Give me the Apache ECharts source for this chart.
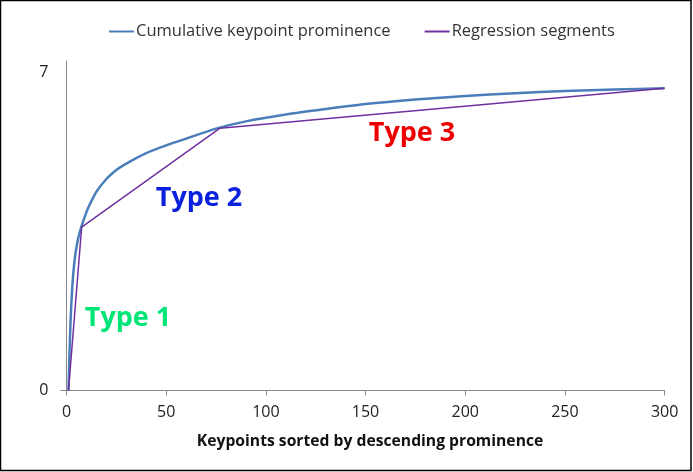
<!DOCTYPE html>
<html>
<head>
<meta charset="utf-8">
<script src="https://cdn.jsdelivr.net/npm/echarts@6/dist/echarts.min.js"></script>
<style>
  html, body { margin: 0; padding: 0; background: #fff; }
  #chart { width: 693px; height: 472px; }
</style>
</head>
<body>
<div id="chart"></div>
<script>
// Cumulative prominence of keypoints, sorted by descending prominence
const curveX = [1, 2, 3, 4, 5, 6, 8, 10, 12, 15, 20, 25, 30, 40, 50, 60, 75, 90, 110, 130, 150, 175, 200, 225, 250, 275, 300];
const curveY = [0, 1.5, 2.35, 2.85, 3.15, 3.38, 3.68, 3.93, 4.13, 4.38, 4.66, 4.86, 5.0, 5.23, 5.4, 5.55, 5.77, 5.93, 6.08, 6.2, 6.31, 6.41, 6.49, 6.55, 6.6, 6.63, 6.66];

// Piecewise linear fit (three segments)
const segX = [1, 7.6, 77, 300];
const segY = [0, 3.6, 5.78, 6.66];

const xTicks = [0, 50, 100, 150, 200, 250, 300];
const yLabels = [0, 7];

const typeLabels = [
  { text: 'Type 1', color: '#00E676', x: 128, y: 318 },
  { text: 'Type 2', color: '#0A22DD', x: 199, y: 198 },
  { text: 'Type 3', color: '#EE0000', x: 412, y: 133 }
];

const FONT = '"Open Sans", sans-serif';
const chart = echarts.init(document.getElementById('chart'));

chart.setOption({
  animation: false,
  backgroundColor: '#ffffff',
  legend: {
    top: 18,
    left: 104,
    icon: 'rect',
    itemWidth: 25,
    itemHeight: 2,
    itemGap: 34,
    textStyle: { fontFamily: FONT, fontSize: 16.5, color: '#333333', padding: [0, 0, 0, -3] },
    data: ['Cumulative keypoint prominence', 'Regression segments']
  },
  grid: { left: 66.5, right: 28.4, top: 61, bottom: 81.5, containLabel: false },
  xAxis: {
    type: 'value',
    min: xTicks[0],
    max: xTicks[xTicks.length - 1],
    interval: 50,
    name: 'Keypoints sorted by descending prominence',
    nameLocation: 'middle',
    nameGap: 43,
    nameTextStyle: { fontFamily: FONT, fontSize: 15.7, fontWeight: 'bold', color: '#111111', padding: [0, 0, 0, 9] },
    axisLine: { show: true, lineStyle: { color: '#888888', width: 1 } },
    axisTick: { show: true, inside: false, length: 5, lineStyle: { color: '#888888' } },
    axisLabel: { fontFamily: FONT, fontSize: 16, color: '#222222', margin: 14 },
    splitLine: { show: false }
  },
  yAxis: {
    type: 'value',
    min: 0,
    max: 7.26,
    interval: 7,
    axisLine: { show: true, lineStyle: { color: '#888888', width: 1 } },
    axisTick: { show: true, length: 6, customValues: [0], lineStyle: { color: '#888888' } },
    axisLabel: {
      fontFamily: FONT, fontSize: 16, color: '#222222', margin: 18,
      customValues: yLabels,
      formatter: v => (yLabels.indexOf(v) >= 0 ? String(v) : '')
    },
    splitLine: { show: false }
  },
  series: [
    {
      name: 'Cumulative keypoint prominence',
      type: 'line',
      data: curveX.map((x, i) => [x, curveY[i]]),
      smooth: 0.25,
      symbol: 'none',
      lineStyle: { color: '#4A7EBB', width: 2.5 },
      itemStyle: { color: '#4A7EBB' },
      z: 2
    },
    {
      name: 'Regression segments',
      type: 'line',
      data: segX.map((x, i) => [x, segY[i]]),
      symbol: 'none',
      lineStyle: { color: '#7030A0', width: 1.5 },
      itemStyle: { color: '#7030A0' },
      z: 3
    }
  ],
  graphic: [
    {
      type: 'rect',
      shape: { x: 0.5, y: 0.5, width: 690.5, height: 470 },
      style: { fill: 'none', stroke: '#000000', lineWidth: 1.5 },
      silent: true
    }
  ].concat(typeLabels.map(t => ({
    type: 'text',
    x: t.x,
    y: t.y,
    style: {
      text: t.text,
      fill: t.color,
      font: 'bold 27px ' + FONT,
      textAlign: 'center',
      textVerticalAlign: 'middle'
    },
    z: 10
  })))
});
</script>
</body>
</html>
